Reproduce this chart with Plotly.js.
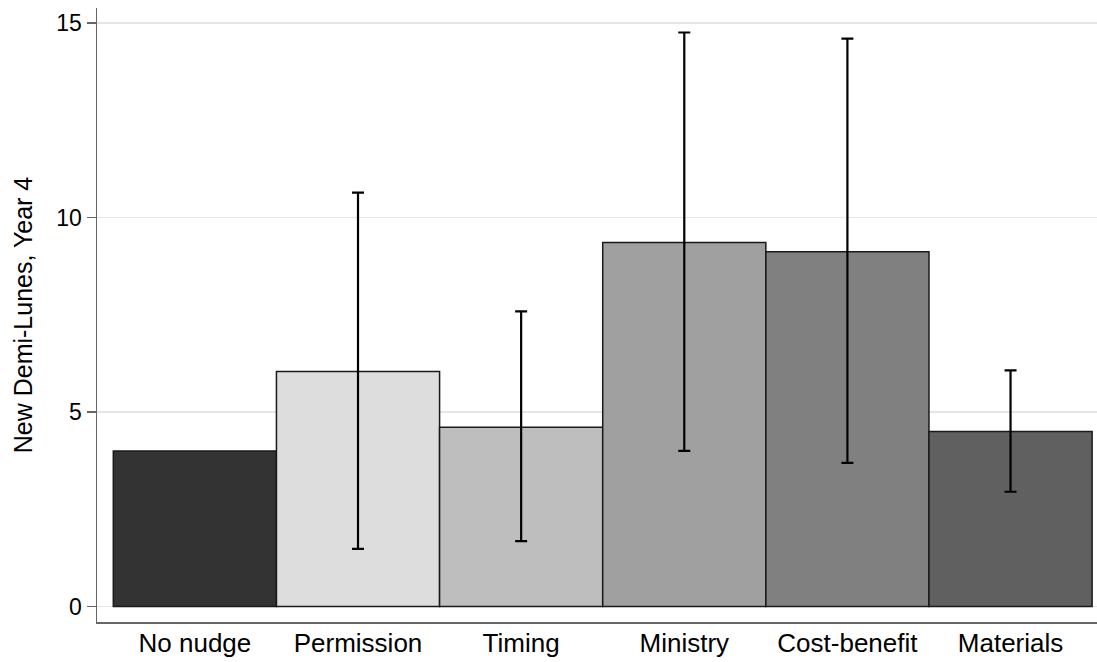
<!DOCTYPE html>
<html>
<head>
<meta charset="utf-8">
<script src="https://cdn.plot.ly/plotly-3.0.1.min.js"></script>
<style>html,body{margin:0;padding:0;background:#fff;}#chart{width:1097px;height:662px;}</style>
</head>
<body>
<div id="chart"></div>
<script>
const categories = ["No nudge", "Permission", "Timing", "Ministry", "Cost-benefit", "Materials"];
const means = [4.0, 6.04, 4.61, 9.36, 9.12, 4.50];
const ciCategories = ["Permission", "Timing", "Ministry", "Cost-benefit", "Materials"];
const ciMeans = [6.04, 4.61, 9.36, 9.12, 4.50];
const ciLow = [1.48, 1.68, 4.0, 3.69, 2.95];
const ciHigh = [10.64, 7.59, 14.76, 14.6, 6.07];
const barColors = ["#333333", "#dddddd", "#bebebe", "#a0a0a0", "#808080", "#606060"];
const yTicks = [0, 5, 10, 15];

const errPlus = ciMeans.map((m, i) => ciHigh[i] - m);
const errMinus = ciMeans.map((m, i) => m - ciLow[i]);

const bars = {
  type: "bar",
  x: categories,
  y: means,
  marker: {color: barColors, line: {color: "#1a1a1a", width: 1.5}},
  hoverinfo: "none"
};

const ci = {
  type: "scatter",
  mode: "markers",
  x: ciCategories,
  y: ciMeans,
  marker: {size: 1, opacity: 0},
  error_y: {
    type: "data", symmetric: false,
    array: errPlus, arrayminus: errMinus,
    color: "#000000", thickness: 2.2, width: 6
  },
  hoverinfo: "none"
};

const layout = {
  width: 1097, height: 662,
  margin: {l: 97, r: 0, t: 8, b: 40},
  paper_bgcolor: "#ffffff", plot_bgcolor: "#ffffff",
  showlegend: false,
  bargap: 0,
  font: {family: "Liberation Sans, Arial, sans-serif", color: "#000"},
  xaxis: {
    type: "category",
    range: [-0.6, 5.53],
    showline: true, linecolor: "#666666", linewidth: 1.5,
    ticks: "", showgrid: false, zeroline: false,
    tickfont: {size: 26, color: "#000"},
    ticklabelstandoff: -3
  },
  yaxis: {
    range: [-0.4, 15.39],
    tickvals: yTicks,
    showline: true, linecolor: "#666666", linewidth: 1.5,
    ticks: "outside", ticklen: 9, tickcolor: "#666666", tickwidth: 1.5,
    showgrid: true, gridcolor: "#e6e6e6", gridwidth: 1.5,
    zeroline: false,
    tickfont: {size: 23, color: "#000"},
    title: {text: "New Demi-Lunes, Year 4", font: {size: 25, color: "#000"}, standoff: 16}
  }
};

Plotly.newPlot("chart", [bars, ci], layout, {displayModeBar: false, staticPlot: true});
</script>
</body>
</html>
